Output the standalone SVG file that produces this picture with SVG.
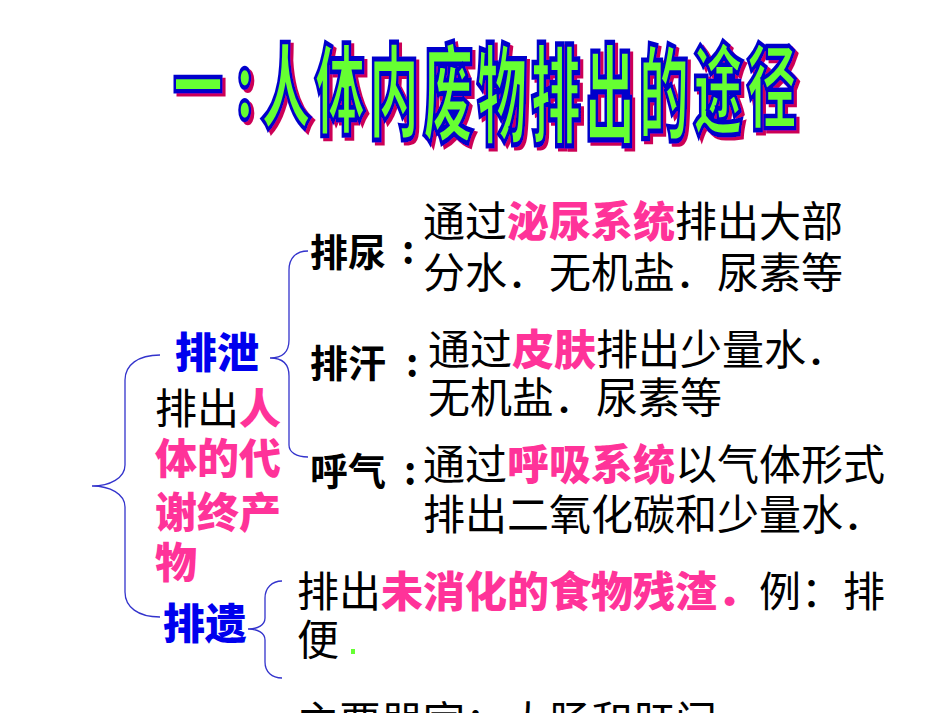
<svg xmlns="http://www.w3.org/2000/svg" width="950" height="713" viewBox="0 0 950 713">
<defs>
<filter id="shadow" x="-10%" y="-10%" width="130%" height="130%">
<feOffset in="SourceAlpha" dx="3" dy="3" result="o"/>
<feFlood flood-color="#cc0055"/>
<feComposite in2="o" operator="in" result="s"/>
<feMerge><feMergeNode in="s"/><feMergeNode in="SourceGraphic"/></feMerge>
</filter>
</defs>
<style>
.t{font-family:"Noto Sans CJK SC","Noto Sans",sans-serif;font-weight:800;font-size:50px;fill:#66ff33;stroke:#0000cc;stroke-width:2.5}
.b{font-family:"Noto Sans CJK SC","Noto Sans",sans-serif;font-size:42px;fill:#000}
.lb{font-family:"Noto Sans CJK SC","Noto Sans",sans-serif;font-size:38px;font-weight:700;fill:#000}
.pk{fill:#ff3399;font-weight:900}
.bl{font-family:"Noto Sans CJK SC","Noto Sans",sans-serif;font-size:42px;font-weight:900;fill:#0000ee}
.br{fill:none;stroke:#3333cc;stroke-width:1.3}
</style>
<rect width="950" height="713" fill="#fff"/>
<g id="title" class="t" filter="url(#shadow)">
<text transform="translate(173,40) scale(1,1.79)" y="44">一</text>
<text transform="translate(236,40) scale(1,1.79)" y="44">:</text>
<text transform="translate(261,40) scale(1,1.85)" y="44">人</text>
<text transform="translate(315,40) scale(1,1.96)" y="44">体</text>
<text transform="translate(369,40) scale(1,2.04)" y="44">内</text>
<text transform="translate(423,40) scale(1,2.1)" y="44">废</text>
<text transform="translate(477,40) scale(1,2.15)" y="44">物</text>
<text transform="translate(531,40) scale(1,2.17)" y="44">排</text>
<text transform="translate(585,40) scale(1,2.15)" y="44">出</text>
<text transform="translate(639,40) scale(1,2.08)" y="44">的</text>
<text transform="translate(693,40) scale(1,1.97)" y="44">途</text>
<text transform="translate(747,40) scale(1,1.84)" y="44">径</text>
</g>
<g id="connectors">
<path class="br" d="M308,251 C296,251 289,258 289,270 L289,340 C289,352 282,358 270,358 C282,358 289,364 289,376 L289,445 C289,452 296,457 308,457"/>
<path class="br" d="M160,355 C138,355 125,365 125,380 L125,465 C125,478 110,486 92,486 C110,486 125,494 125,507 L125,592 C125,607 138,617 160,617"/>
<path class="br" d="M282,581 C272,581 265,588 265,598 L265,618 C265,625 258,629 248,629 C258,629 265,633 265,640 L265,662 C265,672 272,678 282,678"/>
</g>
<g id="paixie">
<text class="bl" x="175" y="368">排泄</text>
<text class="b" x="155" y="424" font-size="40">排出<tspan class="pk">人</tspan></text>
<text class="b pk" x="155" y="474" font-size="40">体的代</text>
<text class="b pk" x="155" y="528" font-size="40">谢终产</text>
<text class="b pk" x="155" y="578" font-size="40">物</text>
</g>
<g id="painiao">
<text class="lb" x="310" y="266">排尿</text>
<text class="lb" x="402" y="264">:</text>
<text class="b" x="423" y="237">通过<tspan class="pk">泌尿系统</tspan>排出大部</text>
<text class="b" x="423" y="288">分水．无机盐．尿素等</text>
</g>
<g id="paihan">
<text class="lb" x="310" y="377">排汗</text>
<text class="lb" x="406" y="377">:</text>
<text class="b" x="428" y="365">通过<tspan class="pk">皮肤</tspan>排出少量水．</text>
<text class="b" x="428" y="413">无机盐．尿素等</text>
</g>
<g id="huqi">
<text class="lb" x="310" y="485">呼气</text>
<text class="lb" x="404" y="485">:</text>
<text class="b" x="423" y="480">通过<tspan class="pk">呼吸系统</tspan>以气体形式</text>
<text class="b" x="423" y="530">排出二氧化碳和少量水．</text>
</g>
<g id="paiyi">
<text class="bl" x="163" y="639">排遗</text>
<text class="b" x="297" y="607" font-size="41">排出<tspan class="pk">未消化的食物残渣．</tspan>例：排</text>
<text class="b" x="297" y="655" font-size="41">便</text>
<rect x="351" y="649" width="4" height="5" fill="#66ff33"/>
<text class="b" x="297" y="737" font-size="41">主要器官：大肠和肛门</text>
</g>
</svg>
